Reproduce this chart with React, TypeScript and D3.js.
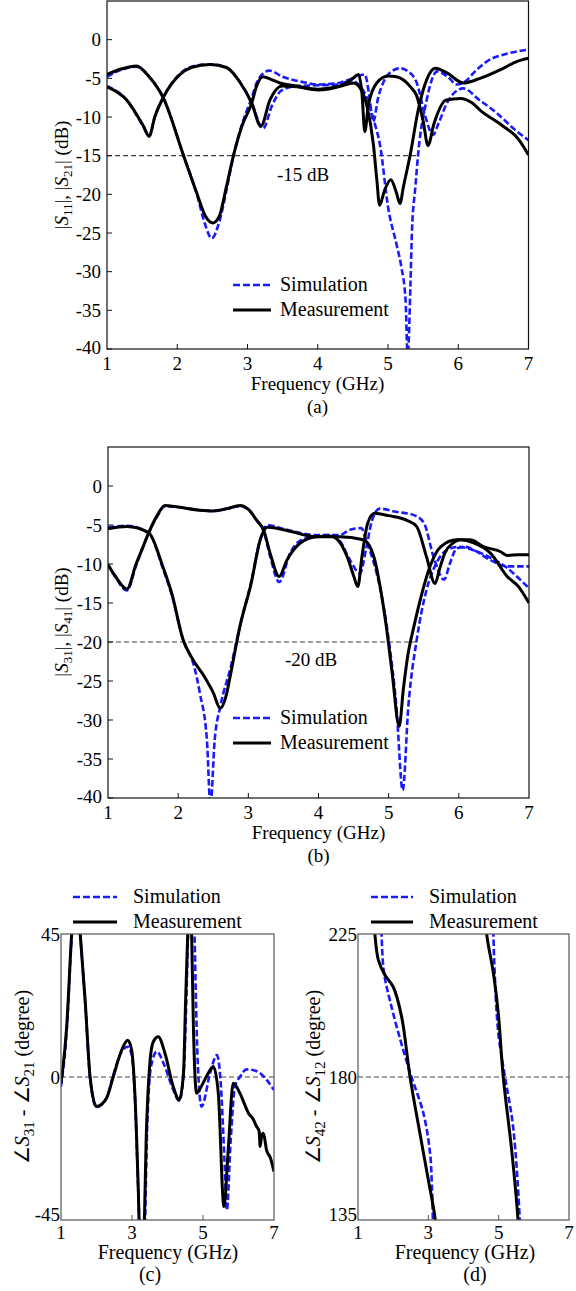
import * as d3 from "d3";
import React from "react";

type Pt = [number, number];

const FONT = "'Liberation Serif', 'Times New Roman', serif";
const BLUE = "#1a1aff";

// ---------- (a) |S11|, |S21| (dB) ----------
const aXTicks = [1, 2, 3, 4, 5, 6, 7];
const aYTicks = [0, -5, -10, -15, -20, -25, -30, -35, -40];
const aS11Sim: Pt[] = [
  [1.0, -4.8], [1.2, -3.9], [1.42, -3.5], [1.6, -4.8], [1.8, -7.5], [2.09, -15], [2.28, -20],
  [2.4, -24], [2.49, -25.7], [2.6, -23.5], [2.7, -19.5], [2.8, -15], [2.92, -11], [3.06, -7.5],
  [3.15, -5.2], [3.31, -4.0], [3.5, -4.8], [3.8, -5.5], [4.0, -5.8], [4.3, -5.6], [4.45, -5.2],
  [4.6, -6.0], [4.7, -7.5], [4.8, -10.5], [4.89, -13.8], [5.0, -21.6], [5.13, -26.8], [5.19, -29.4],
  [5.25, -33.7], [5.28, -41], [5.32, -31.5], [5.34, -25], [5.39, -19], [5.43, -14.7], [5.55, -7.8],
  [5.7, -4.1], [5.85, -4.8], [5.98, -5.8], [6.1, -5.4], [6.25, -4.0], [6.41, -2.8], [6.7, -1.8], [7.0, -1.3],
];
const aS21Sim: Pt[] = [
  [1.0, -6.0], [1.28, -7.8], [1.52, -11.3], [1.6, -12.5], [1.68, -10], [1.8, -7.5], [2.04, -4.4],
  [2.2, -3.5], [2.47, -3.2], [2.7, -3.6], [2.9, -5.6], [3.06, -8.2], [3.22, -11.5], [3.35, -8.5],
  [3.48, -6.6], [3.7, -6.0], [4.0, -5.9], [4.3, -5.8], [4.5, -5.0], [4.67, -4.5], [4.73, -7],
  [4.79, -10.6], [4.86, -7.5], [4.94, -5.4], [5.05, -4.1], [5.17, -3.7], [5.3, -4.2], [5.41, -5.6],
  [5.53, -9.9], [5.64, -12.3], [5.72, -10.8], [5.85, -8], [6.07, -6.3], [6.3, -7.8], [6.55, -9.5],
  [6.8, -11.6], [7.0, -13.0],
];
const aS11Meas: Pt[] = [
  [1.0, -4.5], [1.2, -3.8], [1.42, -3.4], [1.6, -4.8], [1.8, -7.5], [2.09, -15], [2.28, -19.9],
  [2.4, -22.8], [2.51, -23.7], [2.6, -22.8], [2.7, -19], [2.8, -15], [2.92, -11.2], [3.06, -8.2],
  [3.13, -6], [3.22, -4.8], [3.35, -5.2], [3.46, -5.6], [3.7, -6.0], [4.0, -6.4], [4.32, -6.0],
  [4.51, -5.6], [4.62, -6.5], [4.7, -8.6], [4.79, -13.4], [4.84, -18], [4.88, -21.4], [4.95, -19.5],
  [5.04, -18.1], [5.12, -19.8], [5.17, -21.2], [5.22, -19], [5.32, -14.7], [5.43, -9.1], [5.55, -5.2],
  [5.67, -3.7], [5.84, -4.3], [6.07, -5.6], [6.31, -5.0], [6.64, -3.7], [6.84, -2.8], [7.0, -2.4],
];
const aS21Meas: Pt[] = [
  [1.0, -6.1], [1.28, -7.8], [1.52, -11.2], [1.6, -12.5], [1.68, -10], [1.8, -7.5], [2.04, -4.5],
  [2.2, -3.6], [2.47, -3.2], [2.7, -3.6], [2.9, -5.6], [3.06, -8.2], [3.19, -11.2], [3.32, -7.8],
  [3.49, -6.0], [3.7, -6.1], [4.0, -6.5], [4.32, -6.0], [4.5, -5.0], [4.58, -4.5], [4.63, -7],
  [4.67, -11.9], [4.72, -8.5], [4.84, -5.6], [5.0, -4.7], [5.12, -4.8], [5.32, -6.1], [5.41, -7.3],
  [5.5, -10.5], [5.57, -13.7], [5.65, -11], [5.83, -7.8], [6.03, -7.6], [6.2, -8.2], [6.31, -9.1],
  [6.64, -11.2], [6.85, -12.8], [7.0, -14.9],
];

// ---------- (b) |S31|, |S41| (dB) ----------
const bXTicks = [1, 2, 3, 4, 5, 6, 7];
const bYTicks = [0, -5, -10, -15, -20, -25, -30, -35, -40];
const bS31Sim: Pt[] = [
  [1.0, -10.0], [1.1, -11.6], [1.27, -13.4], [1.4, -10.2], [1.58, -6.0], [1.7, -3.9], [1.81, -2.6],
  [2.0, -2.7], [2.31, -3.1], [2.5, -3.2], [2.7, -2.9], [2.88, -2.6], [3.0, -3.0], [3.12, -4.4],
  [3.22, -5.8], [3.31, -9], [3.44, -12.3], [3.6, -8.5], [3.74, -7.0], [3.97, -6.4], [4.16, -6.3],
  [4.3, -7], [4.45, -9.5], [4.59, -11.2], [4.68, -8], [4.76, -4.5], [4.87, -2.9], [5.1, -3.3],
  [5.35, -3.7], [5.5, -4.7], [5.64, -9.1], [5.79, -12.0], [5.87, -10], [5.97, -8.0], [6.1, -7.8],
  [6.21, -8.2], [6.45, -9.5], [6.69, -10.3], [7.0, -10.3],
];
const bS41Sim: Pt[] = [
  [1.0, -5.3], [1.27, -5.1], [1.58, -6.0], [1.78, -10.5], [1.91, -14], [2.07, -19.7], [2.23, -23.2],
  [2.31, -26.6], [2.41, -32.6], [2.46, -41], [2.52, -32.6], [2.6, -28.3], [2.75, -23.2], [2.88, -18],
  [3.04, -12.3], [3.17, -6.8], [3.27, -5.0], [3.5, -5.5], [3.97, -6.3], [4.3, -6.3], [4.45, -5.6],
  [4.61, -5.4], [4.68, -7.0], [4.74, -8.5], [4.83, -11.2], [4.92, -15], [5.0, -19.7], [5.11, -28.3],
  [5.2, -39], [5.28, -28.3], [5.4, -19.7], [5.54, -13.3], [5.68, -9.9], [5.83, -8.2], [6.0, -7.8],
  [6.2, -8.2], [6.45, -9.2], [6.69, -10.5], [6.85, -11.8], [7.0, -13.1],
];
const bS31Meas: Pt[] = [
  [1.0, -10.1], [1.1, -11.5], [1.27, -13.2], [1.4, -10], [1.5, -7.8], [1.58, -6.0], [1.7, -3.8],
  [1.81, -2.5], [2.0, -2.7], [2.31, -3.1], [2.5, -3.2], [2.7, -2.9], [2.88, -2.5], [3.0, -3.0],
  [3.12, -4.4], [3.22, -5.7], [3.31, -8.6], [3.44, -11.6], [3.55, -9.5], [3.74, -7.3], [3.97, -6.5],
  [4.16, -6.4], [4.25, -6.7], [4.41, -9.1], [4.5, -11.5], [4.56, -12.9], [4.62, -9], [4.7, -4.8],
  [4.8, -3.5], [5.0, -3.8], [5.26, -4.4], [5.4, -5.2], [5.54, -9.1], [5.66, -12.5], [5.73, -10.5],
  [5.8, -8.6], [5.92, -7.3], [6.02, -6.9], [6.21, -7.3], [6.45, -8.6], [6.69, -11.6], [6.85, -12.9],
  [7.0, -15],
];
const bS41Meas: Pt[] = [
  [1.0, -5.5], [1.27, -5.2], [1.58, -6.0], [1.78, -10.3], [1.91, -13.8], [2.07, -19.7], [2.2, -22.1],
  [2.37, -24.4], [2.5, -26.5], [2.6, -28.5], [2.68, -27], [2.75, -24.0], [2.88, -18.0], [3.04, -12.5],
  [3.17, -6.9], [3.27, -5.3], [3.5, -5.6], [3.97, -6.5], [4.3, -6.5], [4.64, -6.9], [4.79, -9.1],
  [4.88, -13], [4.96, -17.6], [5.05, -24], [5.15, -30.8], [5.21, -26], [5.27, -21.9], [5.36, -18],
  [5.45, -14.6], [5.59, -10.3], [5.74, -7.8], [5.97, -6.9], [6.16, -6.9], [6.36, -7.8], [6.59, -8.4],
  [6.69, -8.9], [6.85, -8.8], [7.0, -8.8],
];

// ---------- (c) phase S31 - S21 (degree) ----------
const cXTicks = [1, 3, 5, 7];
const cYTicks = [45, 0, -45];
const cSim: Pt[] = [
  [1.0, -3], [1.16, 14.5], [1.3, 44], [1.42, 62], [1.54, 45], [1.68, 23.5], [1.82, -0.5], [2.0, -9.5],
  [2.29, -6.5], [2.47, 0.5], [2.71, 8], [2.88, 9.5], [2.99, 7], [3.08, -5.5], [3.18, -37], [3.24, -52],
  [3.34, -52], [3.43, -15], [3.53, 3], [3.7, 8], [3.9, 4], [4.16, -4], [4.33, -7.5], [4.45, 0],
  [4.52, 20], [4.58, 45], [4.66, 64], [4.72, 58], [4.76, 45], [4.8, 25], [4.85, 5], [4.96, -9.3],
  [5.2, 1.2], [5.39, 6.9], [5.5, -2], [5.6, -25], [5.67, -41.9], [5.78, -20], [5.9, -3], [6.04, 0],
  [6.23, 2.4], [6.4, 2.2], [6.61, 1.2], [6.8, -1], [7.0, -4.1],
];
const cMeas: Pt[] = [
  [1.0, -2], [1.16, 15.8], [1.3, 45], [1.42, 62], [1.54, 45], [1.68, 24.2], [1.82, 0], [2.0, -9.3],
  [2.15, -8.5], [2.29, -6.5], [2.47, 0], [2.71, 8.5], [2.88, 11.6], [2.99, 8.5], [3.08, -5],
  [3.18, -36.5], [3.22, -52], [3.32, -52], [3.41, -15.6], [3.51, 5.3], [3.6, 11.1], [3.74, 12.7],
  [3.93, 7.4], [4.16, -3.0], [4.33, -7.2], [4.45, 1.2], [4.51, 24], [4.57, 45], [4.62, 62], [4.68, 45],
  [4.73, 15.8], [4.82, -5.1], [4.92, -3.6], [5.15, 1.2], [5.29, 3.3], [5.43, -5.0], [5.59, -40.8],
  [5.71, -23], [5.85, -2.0], [6.04, -5.1], [6.15, -8], [6.28, -11.4], [6.4, -13], [6.51, -15.6],
  [6.58, -17], [6.61, -21.9], [6.66, -18], [6.7, -17.7], [6.79, -23], [6.9, -25.5], [7.0, -29.8],
];

// ---------- (d) phase S42 - S12 (degree) ----------
const dXTicks = [1, 3, 5, 7];
const dYTicks = [225, 180, 135];
const dSimLow: Pt[] = [
  [1.66, 232], [1.67, 225], [1.74, 212.7], [1.91, 204], [2.15, 193.8], [2.43, 183.2], [2.52, 180],
  [2.86, 168.6], [3.05, 156], [3.1, 146], [3.13, 135], [3.14, 130],
];
const dMeasLow: Pt[] = [
  [1.44, 232], [1.48, 225], [1.58, 216.8], [1.77, 212], [2.0, 208.4], [2.24, 199], [2.48, 180],
  [2.76, 162.3], [3.0, 147.6], [3.19, 135.6], [3.22, 130],
];
const dSimHigh: Pt[] = [
  [4.84, 232], [4.85, 225], [4.89, 212], [4.99, 193.8], [5.18, 180], [5.41, 164.4], [5.6, 135], [5.61, 130],
];
const dMeasHigh: Pt[] = [
  [4.64, 232], [4.66, 225], [4.85, 212.7], [4.99, 200], [5.13, 180], [5.37, 157], [5.55, 135], [5.57, 130],
];

interface PanelProps {
  id: string;
  box: [number, number, number, number]; // left, top, right, bottom
  xDom: [number, number];
  yDom: [number, number];
  xTicks: number[];
  yTicks: number[];
  xInner: number[];
  yInner: number[];
  sims: Pt[][];
  meas: Pt[][];
  curve: d3.CurveFactory;
  refY: number;
  refXEnd: number;
  frame: string;
  xLabelDy: number;
  yLabelGap: number;
  lastLift: number;
  fs: number;
}

function Panel(p: PanelProps) {
  const [l, t, r, b] = p.box;
  const x = d3.scaleLinear().domain(p.xDom).range([l, r]);
  const y = d3.scaleLinear().domain(p.yDom).range([b, t]);
  const line = d3.line<Pt>().x((d) => x(d[0])).y((d) => y(d[1])).curve(p.curve);
  return (
    <g>
      <defs>
        <clipPath id={p.id}>
          <rect x={l} y={t} width={r - l} height={b - t} />
        </clipPath>
      </defs>
      <line x1={l} x2={x(p.refXEnd)} y1={y(p.refY)} y2={y(p.refY)} stroke="#444" strokeWidth={1.2} strokeDasharray="5,3" />
      <g clipPath={`url(#${p.id})`} fill="none">
        {p.sims.map((s, i) => (
          <path key={"s" + i} d={line(s) || ""} stroke={BLUE} strokeWidth={2.6} strokeDasharray="6.5,2.8" />
        ))}
        {p.meas.map((s, i) => (
          <path key={"m" + i} d={line(s) || ""} stroke="#000" strokeWidth={3} />
        ))}
      </g>
      {p.yInner.map((v) => (
        <line key={"yt" + v} x1={l} x2={l + 5} y1={y(v)} y2={y(v)} stroke={p.frame} strokeWidth={1} />
      ))}
      {p.xInner.map((v) => (
        <line key={"xt" + v} x1={x(v)} x2={x(v)} y1={b} y2={b - 5} stroke={p.frame} strokeWidth={1} />
      ))}
      <rect x={l} y={t} width={r - l} height={b - t} fill="none" stroke={p.frame} strokeWidth={1.2} />
      {p.yTicks.map((v, i) => (
        <text key={"yl" + v} x={l - p.yLabelGap} y={y(v) - (i === p.yTicks.length - 1 ? p.lastLift : 0)} dy="0.35em"
          textAnchor="end" fontSize={p.fs}>
          {String(v)}
        </text>
      ))}
      {p.xTicks.map((v) => (
        <text key={"xl" + v} x={x(v)} y={b + p.xLabelDy} textAnchor="middle" fontSize={p.fs}>
          {String(v)}
        </text>
      ))}
    </g>
  );
}

function Legend({ x, y, x2, gap }: { x: number; y: number; x2: number; gap: number }) {
  return (
    <g>
      <line x1={x} x2={x2} y1={y} y2={y} stroke={BLUE} strokeWidth={2.6} strokeDasharray="7,3" />
      <line x1={x} x2={x2} y1={y + 25} y2={y + 25} stroke="#000" strokeWidth={3} />
      <text x={x2 + gap} y={y + 6} fontSize={20}>Simulation</text>
      <text x={x2 + gap} y={y + 31} fontSize={20}>Measurement</text>
    </g>
  );
}

export default function App() {
  const mono = d3.curveMonotoneX;
  const cat = d3.curveCatmullRom.alpha(0.5);
  return (
    <svg
      width={576}
      height={1291}
      style={{ position: "absolute", left: 0, top: 0, background: "#fff", fontFamily: FONT }}
      fontFamily={FONT}
      fill="#000"
    >
      {/* (a) */}
      <Panel
        id="clipA" box={[107, 1, 528.5, 349]} xDom={[1, 7]} yDom={[-40, 5]}
        xTicks={aXTicks} yTicks={aYTicks} xInner={aXTicks.slice(1, -1)} yInner={aYTicks}
        sims={[aS11Sim, aS21Sim]} meas={[aS11Meas, aS21Meas]} curve={mono}
        refY={-15} refXEnd={5.42} frame="#111" xLabelDy={21} yLabelGap={6} lastLift={2} fs={19}
      />
      <text x={277} y={181} fontSize={19}>-15 dB</text>
      <Legend x={233} y={285} x2={271} gap={9} />
      <text transform="translate(68,175) rotate(-90)" textAnchor="middle" fontSize={19}>
        |<tspan fontStyle="italic">S</tspan><tspan fontSize={13} dy={4}>11</tspan>
        <tspan dy={-4}>|,  |</tspan><tspan fontStyle="italic">S</tspan><tspan fontSize={13} dy={4}>21</tspan>
        <tspan dy={-4}>| (dB)</tspan>
      </text>
      <text x={317.5} y={390} textAnchor="middle" fontSize={19}>Frequency (GHz)</text>
      <text x={317.5} y={413} textAnchor="middle" fontSize={19}>(a)</text>

      {/* (b) */}
      <Panel
        id="clipB" box={[108, 447, 529, 798]} xDom={[1, 7]} yDom={[-40, 5]}
        xTicks={bXTicks} yTicks={bYTicks} xInner={bXTicks.slice(1, -1)} yInner={bYTicks}
        sims={[bS31Sim, bS41Sim]} meas={[bS31Meas, bS41Meas]} curve={mono}
        refY={-20} refXEnd={5.42} frame="#111" xLabelDy={21} yLabelGap={6} lastLift={2} fs={19}
      />
      <text x={285} y={666} fontSize={19}>-20 dB</text>
      <Legend x={233} y={718} x2={271} gap={9} />
      <text transform="translate(68,622) rotate(-90)" textAnchor="middle" fontSize={19}>
        |<tspan fontStyle="italic">S</tspan><tspan fontSize={13} dy={4}>31</tspan>
        <tspan dy={-4}>|,  |</tspan><tspan fontStyle="italic">S</tspan><tspan fontSize={13} dy={4}>41</tspan>
        <tspan dy={-4}>| (dB)</tspan>
      </text>
      <text x={318.5} y={839} textAnchor="middle" fontSize={19}>Frequency (GHz)</text>
      <text x={318.5} y={862} textAnchor="middle" fontSize={19}>(b)</text>

      {/* (c) */}
      <Legend x={73} y={897} x2={117} gap={16} />
      <Panel
        id="clipC" box={[61, 934, 274, 1220]} xDom={[1, 7]} yDom={[-45, 45]}
        xTicks={cXTicks} yTicks={cYTicks} xInner={[3, 5]} yInner={[]}
        sims={[cSim]} meas={[cMeas]} curve={mono}
        refY={0} refXEnd={7} frame="#555" xLabelDy={19} yLabelGap={1} lastLift={6} fs={19}
      />
      <text transform="translate(29,1077) rotate(-90)" textAnchor="middle" fontSize={20}>
        ∠<tspan fontStyle="italic">S</tspan><tspan fontSize={15} dy={5}>31</tspan>
        <tspan dy={-5}> - ∠</tspan><tspan fontStyle="italic">S</tspan><tspan fontSize={15} dy={5}>21</tspan>
        <tspan dy={-5}> (degree)</tspan>
      </text>
      <text x={168} y={1259} textAnchor="middle" fontSize={20}>Frequency (GHz)</text>
      <text x={150} y={1281} textAnchor="middle" fontSize={20}>(c)</text>

      {/* (d) */}
      <Legend x={371} y={897} x2={413} gap={16} />
      <Panel
        id="clipD" box={[358, 934, 569, 1220]} xDom={[1, 7]} yDom={[135, 225]}
        xTicks={dXTicks} yTicks={dYTicks} xInner={[3, 5]} yInner={[]}
        sims={[dSimLow, dSimHigh]} meas={[dMeasLow, dMeasHigh]} curve={cat}
        refY={180} refXEnd={7} frame="#555" xLabelDy={19} yLabelGap={1} lastLift={6} fs={19}
      />
      <text transform="translate(320,1077) rotate(-90)" textAnchor="middle" fontSize={20}>
        ∠<tspan fontStyle="italic">S</tspan><tspan fontSize={15} dy={5}>42</tspan>
        <tspan dy={-5}> - ∠</tspan><tspan fontStyle="italic">S</tspan><tspan fontSize={15} dy={5}>12</tspan>
        <tspan dy={-5}> (degree)</tspan>
      </text>
      <text x={465} y={1259} textAnchor="middle" fontSize={20}>Frequency (GHz)</text>
      <text x={475} y={1281} textAnchor="middle" fontSize={20}>(d)</text>
    </svg>
  );
}
